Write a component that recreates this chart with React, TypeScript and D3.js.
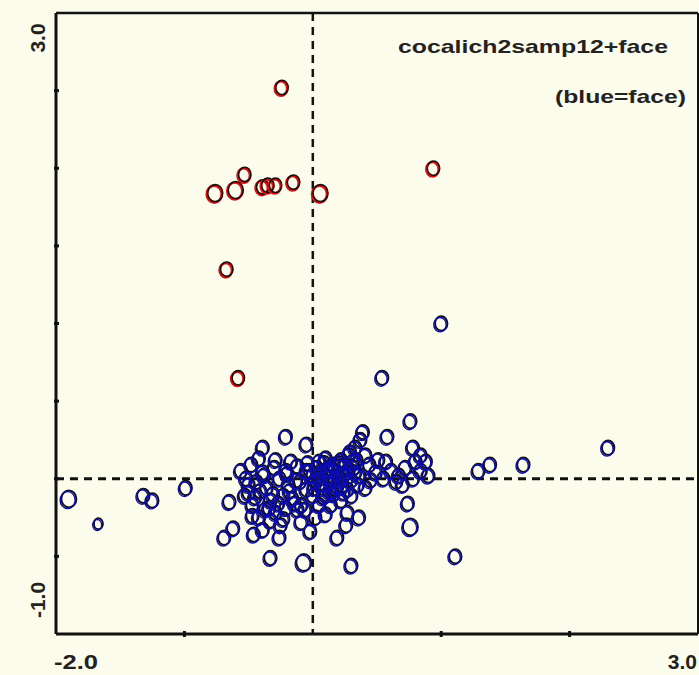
import React from 'react';
import * as d3 from 'd3';

// red group (non-face samples): x, y, size (1 small, 2 normal, 3 large)
const redX = [-0.76, -0.6, -0.53, -0.39, -0.35, -0.29, -0.15, 0.06, -0.24, 0.94, -0.67, -0.58];
const redY = [1.84, 1.86, 1.96, 1.88, 1.89, 1.89, 1.91, 1.84, 2.52, 2.0, 1.35, 0.65];
const redS = [3, 3, 2, 2, 2, 2, 2, 3, 2, 2, 2, 2];

// blue group (face)
const blueX = [
  -1.9, -1.67, -1.32, -1.25, -0.99, -0.65, -0.62, -0.69, 1.0, 0.54, 0.76, 0.58, -0.21, -0.39, -0.05, 0.39,
  0.78, 0.84, 1.29, 1.38, 1.64, 2.3, 1.11, 0.76, 0.74, 0.3, -0.07, -0.33, -0.26, -0.02, 0.19, 0.36, 0.27, -0.46,
  -0.48, -0.52, -0.5, -0.47, -0.42, -0.39, -0.36, -0.33, -0.29, -0.25, -0.21, -0.19, -0.16, -0.12, -0.09, -0.42,
  -0.29, -0.17, -0.05, -0.53, -0.39, -0.33, -0.23, -0.13, -0.05, -0.44, -0.34, -0.21, -0.09, -0.56, -0.26,
  -0.02, 0.05, 0.1, 0.16, 0.22, 0.28, 0.33, 0.37, 0.31, 0.26, 0.2, 0.14, 0.08, 0.02, 0.0, 0.1, 0.18, 0.23, 0.3,
  0.36, 0.06, 0.12, 0.19, 0.25, 0.34, 0.41, 0.05, 0.14, 0.22, 0.3, 0.1, 0.26, 0.02,
  0.44, 0.49, 0.55, 0.61, 0.67, 0.72, 0.78, 0.84, 0.88, 0.65, 0.51, 0.57, 0.8, 0.7, 0.45, 0.9, 0.41,
  0.0, 0.03, 0.07, 0.11, 0.15, 0.19, 0.24, 0.28, 0.32, 0.35, 0.01, 0.05, 0.09, 0.13, 0.17, 0.21, 0.27, 0.33,
  -0.04, 0.08, 0.16, 0.24, 0.12, 0.2, 0.29,
  -0.5, -0.45, -0.41, -0.37, -0.31, -0.27, -0.23, -0.18, -0.14, -0.1, -0.47, -0.38, -0.3, -0.2, -0.12, -0.06,
];
const blueY = [
  -0.13, -0.29, -0.11, -0.14, -0.06, -0.15, -0.32, -0.38, 1.0, 0.65, 0.37, 0.27, 0.27, 0.2, 0.22, 0.3,
  0.2, 0.15, 0.05, 0.09, 0.09, 0.2, -0.5, -0.31, -0.16, -0.56, -0.54, -0.51, -0.38, -0.34, -0.38, -0.25, -0.22, -0.36,
  0.09, 0.0, -0.09, -0.17, -0.25, 0.04, -0.06, -0.14, -0.22, -0.3, 0.05, -0.04, -0.13, -0.2, -0.28, 0.13,
  0.12, 0.11, 0.05, -0.11, -0.33, -0.27, -0.11, -0.01, -0.07, -0.02, -0.19, -0.19, -0.17, 0.05, 0.0,
  0.05, 0.11, 0.13, 0.09, 0.12, 0.15, 0.2, 0.25, 0.11, 0.04, 0.0, -0.02, -0.06, -0.01, -0.11, -0.11, -0.07, -0.04, -0.01,
  0.02, 0.04, 0.05, 0.04, 0.08, 0.12, 0.15, -0.17, -0.17, -0.14, -0.11, -0.23, -0.3, -0.25,
  0.09, 0.04, 0.0, 0.05, 0.02, 0.07, 0.0, 0.05, 0.11, -0.02, 0.12, 0.11, 0.11, -0.04, -0.01, 0.02, -0.06,
  0.02, 0.07, -0.03, 0.01, 0.06, -0.05, 0.02, 0.06, 0.07, -0.04, -0.06, 0.0, 0.1, -0.08, 0.0, 0.08, -0.07, 0.04,
  0.1, -0.12, -0.1, -0.09, 0.07, 0.1, 0.17,
  -0.04, -0.12, -0.08, -0.2, -0.1, -0.16, -0.26, -0.08, -0.16, -0.02, -0.24, 0.02, 0.07, 0.03, 0.08, -0.2,
];
const blueS = blueX.map((_, i) => (i === 0 || i === 23 || i === 26 ? 3 : i === 1 ? 1 : 2));

const xTicks = [-1, 1, 2];
const yTicks = [-0.5, 0, 0.5, 1, 1.5, 2, 2.5];

const W = 699;
const H = 675;
const bg = '#fcfcec';
const blue = '#0c0cb8';
const red = '#e01010';

const App = () => {
  const x = d3.scaleLinear().domain([-2, 3]).range([56, 698]);
  const y = d3.scaleLinear().domain([-1, 3]).range([634, 13]);

  const rx = (s: number) => (s === 3 ? 7.5 : s === 1 ? 4.5 : 6.2);
  const ry = (s: number) => (s === 3 ? 8.5 : s === 1 ? 5.5 : 7.2);

  const font = '"Liberation Sans", Arial, sans-serif';

  // blue: black outlines first, then the blue ring slightly offset on top,
  // so the dense cluster reads as mostly blue like in the original
  const blueBlack = blueX.map((v, i) => (
    <ellipse key={'bk' + i} cx={x(v)} cy={y(blueY[i])} rx={rx(blueS[i])} ry={ry(blueS[i])} fill="none" stroke="#111" strokeWidth={2} />
  ));
  const blueRing = blueX.map((v, i) => (
    <ellipse key={'bb' + i} cx={x(v) - 1.2} cy={y(blueY[i]) + 1.2} rx={rx(blueS[i])} ry={ry(blueS[i])} fill="none" stroke={blue} strokeWidth={1.4} />
  ));

  return (
    <svg width={W} height={H} style={{ position: 'absolute', left: 0, top: 0, background: bg }}>
      <rect x={0} y={0} width={W} height={H} fill={bg} />

      {/* dashed reference lines */}
      <line x1={x(-2)} x2={x(3)} y1={y(0)} y2={y(0)} stroke="#111" strokeWidth={2.8} strokeDasharray="8,6" />
      <line x1={x(0)} x2={x(0)} y1={y(3)} y2={y(-1)} stroke="#111" strokeWidth={2.5} strokeDasharray="8,6" />

      {/* points */}
      <g>{blueBlack}</g>
      <g>{blueRing}</g>
      {redX.map((v, i) => (
        <g key={'r' + i}>
          <ellipse cx={x(v) - 1} cy={y(redY[i]) + 1} rx={rx(redS[i])} ry={ry(redS[i])} fill="none" stroke={red} strokeWidth={2.6} />
          <ellipse cx={x(v)} cy={y(redY[i])} rx={rx(redS[i])} ry={ry(redS[i])} fill="none" stroke="#111" strokeWidth={1.6} />
        </g>
      ))}

      {/* frame */}
      <line x1={x(-2)} x2={x(-2)} y1={y(3)} y2={y(-1)} stroke="#111" strokeWidth={3} />
      <line x1={x(-2)} x2={x(3)} y1={y(-1)} y2={y(-1)} stroke="#111" strokeWidth={3} />
      <line x1={x(-2)} x2={x(3)} y1={y(3)} y2={y(3)} stroke="#111" strokeWidth={2.5} />
      <line x1={x(3)} x2={x(3)} y1={y(3)} y2={y(-1)} stroke="#111" strokeWidth={2} />

      {xTicks.map((t) => (
        <line key={'xt' + t} x1={x(t)} x2={x(t)} y1={y(-1) - 3} y2={y(-1) + 3} stroke="#111" strokeWidth={3} />
      ))}
      {yTicks.map((t) => (
        <line key={'yt' + t} x1={x(-2) - 2} x2={x(-2) + 3} y1={y(t)} y2={y(t)} stroke="#111" strokeWidth={3} />
      ))}

      {/* axis labels */}
      <text x={54} y={669} fontFamily={font} fontWeight="bold" fontSize={21} fill="#222" textLength={44} lengthAdjust="spacingAndGlyphs">-2.0</text>
      <text x={697} y={669} fontFamily={font} fontWeight="bold" fontSize={21} fill="#222" textAnchor="end">3.0</text>
      <text transform="translate(45,38) rotate(-90)" fontFamily={font} fontWeight="bold" fontSize={21} fill="#222" textAnchor="middle">3.0</text>
      <text transform="translate(45,600) rotate(-90)" fontFamily={font} fontWeight="bold" fontSize={21} fill="#222" textAnchor="middle">-1.0</text>

      {/* annotation */}
      <text x={398} y={53} fontFamily={font} fontWeight="bold" fontSize={19} fill="#222" textLength={270} lengthAdjust="spacingAndGlyphs">
        cocalich2samp12+face
      </text>
      <text x={555} y={103} fontFamily={font} fontWeight="bold" fontSize={19} fill="#222" textLength={131} lengthAdjust="spacingAndGlyphs">
        (blue=face)
      </text>
    </svg>
  );
};

export default App;
